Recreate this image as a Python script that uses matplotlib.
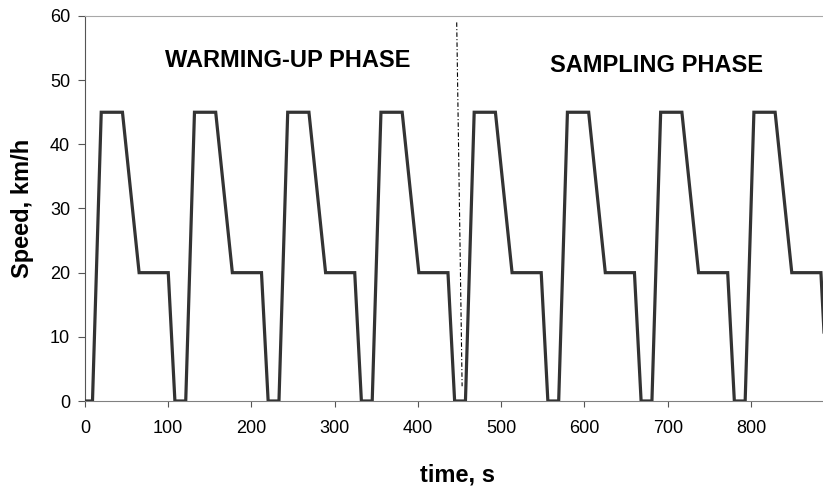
import matplotlib
matplotlib.use("Agg")
from matplotlib import pyplot as plt

plt.rcParams["font.family"] = ["Liberation Sans", "DejaVu Sans"]

# speed trace (breakpoints of the repeated cycle)
time_s = [0,
          9, 19.5, 45, 65, 100, 108,
          121, 131.5, 157, 177, 212, 220,
          233, 243.5, 269, 289, 324, 332,
          345, 355.5, 381, 401, 436, 444,
          457, 467.5, 493, 513, 548, 556,
          569, 579.5, 605, 625, 660, 668,
          681, 691.5, 717, 737, 772, 780,
          793, 803.5, 829, 849, 884, 892,
          900]
speed_kmh = [0,
             0, 45, 45, 20, 20, 0,
             0, 45, 45, 20, 20, 0,
             0, 45, 45, 20, 20, 0,
             0, 45, 45, 20, 20, 0,
             0, 45, 45, 20, 20, 0,
             0, 45, 45, 20, 20, 0,
             0, 45, 45, 20, 20, 0,
             0, 45, 45, 20, 20, 0,
             0]

divider_t = [446.5, 453]
divider_v = [59, 2.3]

phase_labels = ["WARMING-UP PHASE", "SAMPLING PHASE"]
phase_t = [243.5, 686]
phase_v = [52.1, 51.2]

fig = plt.figure(figsize=(8.23, 4.86), dpi=100)
ax = fig.add_axes([85 / 823, 85 / 486, 738 / 823, 385 / 486])

ax.plot(time_s, speed_kmh, color="#333333", lw=2.3, solid_joinstyle="miter", zorder=3)
ax.plot(divider_t, divider_v, color="black", lw=0.8, dashes=(4, 2, 1, 2), zorder=2)

for lab, t, v in zip(phase_labels, phase_t, phase_v):
    ax.text(t, v, lab, ha="center", va="baseline", fontsize=17, fontweight="bold")

ax.set_xlim(0, 886.5)
ax.set_ylim(0, 60)
ax.set_xticks(range(0, 900, 100))
ax.set_yticks(range(0, 70, 10))

ax.spines["right"].set_visible(False)
ax.spines["top"].set_color("#a8a8a8")
ax.spines["left"].set_color("#555555")
ax.spines["bottom"].set_color("#808080")
for s in ax.spines.values():
    s.set_linewidth(0.8)

ax.tick_params(axis="x", direction="out", length=4, width=0.8, color="#555555",
               labelsize=13, pad=9.5)
ax.tick_params(axis="y", direction="out", length=4.7, width=0.8, color="#555555",
               labelsize=13, pad=6)

ax.set_xlabel("time, s", fontsize=17, fontweight="bold", va="baseline")
ax.xaxis.set_label_coords(0.505, -0.2096)
ax.set_ylabel("Speed, km/h", fontsize=17, fontweight="bold")
ax.yaxis.set_label_coords(-0.069, 0.5)

fig.savefig("out.png", dpi=100)
